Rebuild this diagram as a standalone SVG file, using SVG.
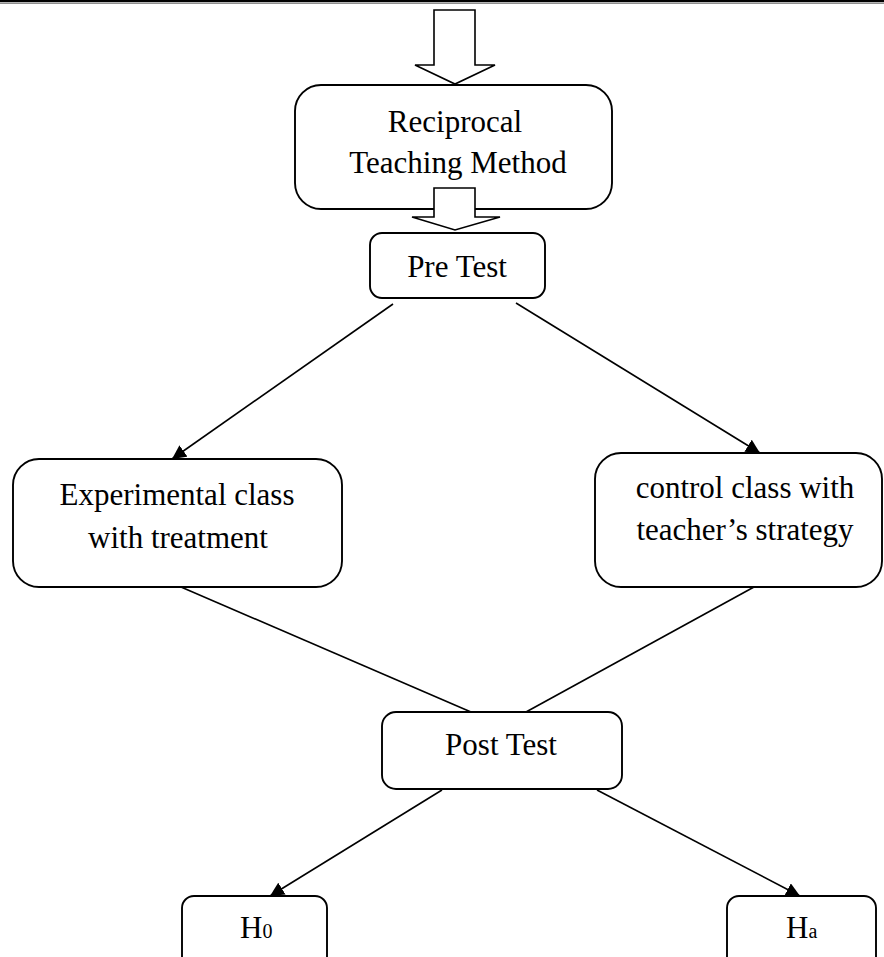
<svg xmlns="http://www.w3.org/2000/svg" width="884" height="957" viewBox="0 0 884 957">
<style>
.box{fill:#fff;stroke:#000;stroke-width:1.9}
.t{font-family:"Liberation Serif","Times New Roman",serif;font-size:31px;fill:#000;text-anchor:middle}
.ln{stroke:#000;stroke-width:1.6;fill:none}
.blk{fill:#fff;stroke:#000;stroke-width:1.6;stroke-linejoin:miter}
</style>
<defs>
<marker id="ah" markerUnits="userSpaceOnUse" markerWidth="14" markerHeight="14" refX="14" refY="7" orient="auto">
<path d="M0,0 L14,7 L0,14 z" fill="#000"/>
</marker>
</defs>
<rect x="0" y="0" width="884" height="2" fill="#000"/>
<rect x="0" y="2.6" width="884" height="1" fill="#444"/>
<g id="n-reciprocal">
<rect class="box" x="295" y="85" width="317" height="124" rx="26"/>
<text class="t" x="455" y="132">Reciprocal</text>
<text class="t" x="458" y="173">Teaching Method</text>
</g>
<g id="n-pretest">
<rect class="box" x="370" y="233" width="175" height="65" rx="12"/>
<text class="t" x="457" y="277">Pre Test</text>
</g>
<g id="n-experimental">
<rect class="box" x="13" y="459" width="329" height="128" rx="26"/>
<text class="t" x="177" y="505">Experimental class</text>
<text class="t" x="178" y="548">with treatment</text>
</g>
<g id="n-control">
<rect class="box" x="595" y="453" width="287" height="134" rx="26"/>
<text class="t" x="745" y="498">control class with</text>
<text class="t" x="745" y="540">teacher’s strategy</text>
</g>
<g id="n-posttest">
<rect class="box" x="382" y="712" width="240" height="77" rx="14"/>
<text class="t" x="501" y="755">Post Test</text>
</g>
<g id="n-h0">
<rect class="box" x="182" y="896" width="145" height="80" rx="12"/>
<text class="t" x="240" y="938" style="text-anchor:start">H<tspan font-size="20">0</tspan></text>
</g>
<g id="n-ha">
<rect class="box" x="727" y="896" width="149" height="80" rx="12"/>
<text class="t" x="786" y="938" style="text-anchor:start">H<tspan font-size="20">a</tspan></text>
</g>
<g id="connectors">
<polygon class="blk" points="434,10 475,10 475,65 495,65 455,84 415,65 434,65"/>
<polygon class="blk" points="434,188 475,188 475,217 500,217 455,230 412,217 434,217"/>
<line class="ln" x1="393" y1="304" x2="172" y2="459" marker-end="url(#ah)"/>
<line class="ln" x1="516" y1="303" x2="760" y2="453" marker-end="url(#ah)"/>
<line class="ln" x1="181" y1="587" x2="471" y2="712"/>
<line class="ln" x1="754" y1="587" x2="526" y2="712"/>
<line class="ln" x1="442" y1="790" x2="270" y2="896" marker-end="url(#ah)"/>
<line class="ln" x1="597" y1="790" x2="800" y2="896" marker-end="url(#ah)"/>
</g>
</svg>
